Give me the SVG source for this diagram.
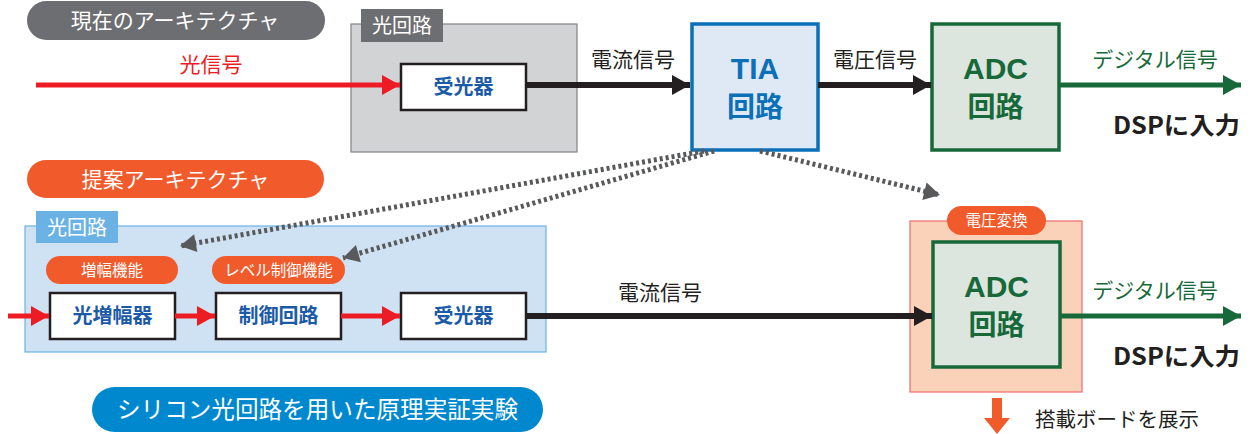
<svg xmlns="http://www.w3.org/2000/svg" width="1250" height="434" viewBox="0 0 1250 434">
<style>
text{font-family:"Noto Sans CJK JP","Noto Sans",sans-serif;}
.pill{font-size:21px;fill:#fff;text-anchor:middle;}
.small{font-size:15.5px;fill:#fff;text-anchor:middle;}
.box{fill:#fff;stroke:#231f20;stroke-width:2.5;}
.bt{font-size:20px;font-weight:bold;fill:#1b5aa6;text-anchor:middle;}
.lbl{font-size:21px;fill:#231f20;text-anchor:middle;}
.grn{font-size:21px;fill:#17693a;text-anchor:middle;}
.adc{fill:#dde5df;stroke:#17693a;stroke-width:3.5;}
.lat{font-family:"Liberation Sans",Arial,sans-serif;font-size:30px;font-weight:bold;text-anchor:middle;}
.cj{font-size:28px;font-weight:bold;text-anchor:middle;}
.dsp{font-size:24px;font-weight:bold;fill:#231f20;}
.red{stroke:#ed1c24;stroke-width:5;fill:none;}
.blk{stroke:#231f20;stroke-width:6;fill:none;}
.gl{stroke:#17693a;stroke-width:5;fill:none;}
.dot{stroke:#58595b;stroke-width:5;fill:none;stroke-dasharray:3 3;}
</style>
<defs>
<marker id="ar" markerUnits="userSpaceOnUse" markerWidth="24" markerHeight="24" refX="20" refY="12" orient="auto" viewBox="0 0 24 24"><path d="M2,2 L20,12 L2,22 Z" fill="#ed1c24"/></marker>
<marker id="ak" markerUnits="userSpaceOnUse" markerWidth="24" markerHeight="24" refX="20" refY="12" orient="auto" viewBox="0 0 24 24"><path d="M2,2 L20,12 L2,22 Z" fill="#231f20"/></marker>
<marker id="ag" markerUnits="userSpaceOnUse" markerWidth="24" markerHeight="24" refX="20" refY="12" orient="auto" viewBox="0 0 24 24"><path d="M2,2 L20,12 L2,22 Z" fill="#17693a"/></marker>
<marker id="ad" markerUnits="userSpaceOnUse" markerWidth="22" markerHeight="22" refX="18" refY="11" orient="auto" viewBox="0 0 22 22"><path d="M2,2 L18,11 L2,20 Z" fill="#58595b"/></marker>
</defs>

<!-- Top: current architecture -->
<g id="current-title">
<rect x="27" y="1" width="298" height="39" rx="19.5" fill="#6d6e71"/>
<text class="pill" x="175" y="28">現在のアーキテクチャ</text>
</g>
<g id="optical-circuit-top">
<rect x="351" y="24" width="226" height="128" fill="#d1d3d4" stroke="#808285" stroke-width="1.2"/>
<rect x="361" y="9" width="82" height="33" fill="#6d6e71"/>
<text x="402" y="33" font-size="20" fill="#fff" text-anchor="middle">光回路</text>
</g>
<g id="pd-top">
<rect class="box" x="401" y="64" width="125" height="46"/>
<text class="bt" x="463.5" y="94">受光器</text>
</g>
<g id="tia">
<rect x="692" y="24" width="126" height="126" fill="#dfe8f5" stroke="#0a70b8" stroke-width="3.5"/>
<text class="lat" x="755" y="79" fill="#0a70b8">TIA</text>
<text class="cj" x="755" y="117" fill="#0a70b8">回路</text>
</g>
<g id="adc-top">
<rect class="adc" x="932" y="24" width="127" height="126"/>
<text class="lat" x="995.5" y="79" fill="#17693a">ADC</text>
<text class="cj" x="995.5" y="117" fill="#17693a">回路</text>
</g>
<g id="dsp-top">
<text class="dsp" x="1113" y="134" textLength="127" lengthAdjust="spacingAndGlyphs">DSPに入力</text>
</g>

<!-- Bottom: proposed architecture -->
<g id="proposed-title">
<rect x="27" y="160" width="297" height="38" rx="19" fill="#f15a2b"/>
<text class="pill" x="175.5" y="187">提案アーキテクチャ</text>
</g>
<g id="optical-circuit-bottom">
<rect x="25" y="226" width="521" height="126" fill="#cfe2f3" stroke="#6bb2e4" stroke-width="1.2"/>
<rect x="36" y="211" width="82" height="32" fill="#6bb2e4"/>
<text x="77" y="235" font-size="20" fill="#fff" text-anchor="middle">光回路</text>
</g>
<g id="amp-func">
<rect x="46" y="256" width="132" height="28" rx="14" fill="#f15a2b"/>
<text class="small" x="112" y="276">増幅機能</text>
</g>
<g id="level-func">
<rect x="212" y="256" width="133" height="28" rx="14" fill="#f15a2b"/>
<text class="small" x="278.5" y="276">レベル制御機能</text>
</g>
<g id="amp">
<rect class="box" x="50" y="293" width="125" height="46"/>
<text class="bt" x="112.5" y="323">光増幅器</text>
</g>
<g id="ctrl">
<rect class="box" x="216" y="293" width="125" height="46"/>
<text class="bt" x="278.5" y="323">制御回路</text>
</g>
<g id="pd-bottom">
<rect class="box" x="401" y="293" width="125" height="46"/>
<text class="bt" x="463.5" y="323">受光器</text>
</g>
<g id="board">
<rect x="910" y="221" width="172" height="171" fill="#fad1b9" stroke="#f26a6a" stroke-width="1.2"/>
<rect x="947" y="206" width="99" height="29" rx="14.5" fill="#f15a2b"/>
<text class="small" x="996.5" y="226">電圧変換</text>
</g>
<g id="adc-bottom">
<rect class="adc" x="933" y="242" width="127" height="125"/>
<text class="lat" x="996.5" y="297" fill="#17693a">ADC</text>
<text class="cj" x="996.5" y="335" fill="#17693a">回路</text>
</g>
<g id="dsp-bottom">
<text class="dsp" x="1113" y="365" textLength="127" lengthAdjust="spacingAndGlyphs">DSPに入力</text>
</g>
<g id="exhibit">
<path d="M992,398 H1002 V418 H1010 L997,434 L984,418 H992 Z" fill="#f15a2b"/>
<text x="1035" y="427" font-size="20.5" fill="#231f20">搭載ボードを展示</text>
</g>
<g id="experiment">
<rect x="92" y="387" width="451" height="45" rx="22.5" fill="#0088cf"/>
<text x="317.5" y="418" font-size="23.6" fill="#fff" text-anchor="middle">シリコン光回路を用いた原理実証実験</text>
</g>

<!-- Connectors -->
<g id="connectors">
<line class="red" x1="36" y1="85" x2="400" y2="85" marker-end="url(#ar)"/>
<text x="211" y="72" font-size="21" fill="#ed1c24" text-anchor="middle">光信号</text>
<line class="blk" x1="526" y1="85" x2="690" y2="85" marker-end="url(#ak)"/>
<text class="lbl" x="633" y="67">電流信号</text>
<line class="blk" x1="818" y1="85" x2="931" y2="85" marker-end="url(#ak)"/>
<text class="lbl" x="875" y="67">電圧信号</text>
<line class="gl" x1="1059" y1="85" x2="1241" y2="85" marker-end="url(#ag)"/>
<text class="grn" x="1155" y="67">デジタル信号</text>

<line class="red" x1="8" y1="316" x2="49" y2="316" marker-end="url(#ar)"/>
<line class="red" x1="175" y1="316" x2="215" y2="316" marker-end="url(#ar)"/>
<line class="red" x1="341" y1="316" x2="400" y2="316" marker-end="url(#ar)"/>
<line class="blk" x1="526" y1="316" x2="932" y2="316" marker-end="url(#ak)"/>
<text class="lbl" x="660" y="300">電流信号</text>
<line class="gl" x1="1060" y1="316" x2="1241" y2="316" marker-end="url(#ag)"/>
<text class="grn" x="1155" y="298">デジタル信号</text>

<line class="dot" x1="704" y1="151" x2="180" y2="246" marker-end="url(#ad)"/>
<line class="dot" x1="714" y1="151" x2="343" y2="258" marker-end="url(#ad)"/>
<line class="dot" x1="760" y1="151" x2="940" y2="195" marker-end="url(#ad)"/>
</g>
</svg>
